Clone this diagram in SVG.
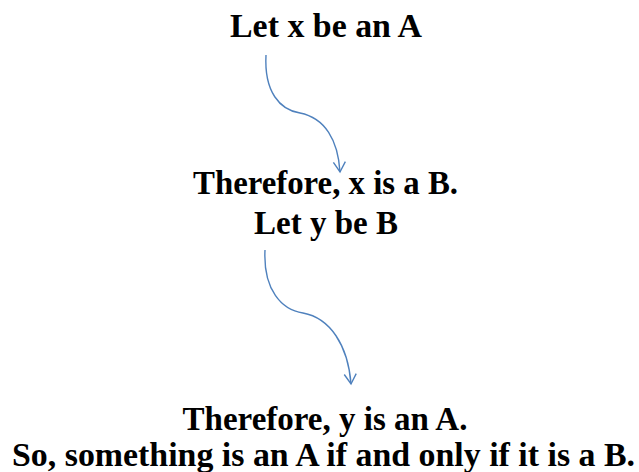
<svg xmlns="http://www.w3.org/2000/svg" width="639" height="472" viewBox="0 0 639 472">
<style>
text{font-family:"Liberation Serif","Times New Roman",serif;font-weight:bold;font-size:33px;fill:#000;text-anchor:middle}
.c{fill:none;stroke:#4F81BD;stroke-width:1.4}
</style>
<defs>
<marker id="ah" markerUnits="userSpaceOnUse" markerWidth="24" markerHeight="24" viewBox="-12 -12 24 24" refX="0" refY="0" orient="auto">
<path d="M-10,-6 L0,0 L-10,6" fill="none" stroke="#4F81BD" stroke-width="1.4"/>
</marker>
</defs>
<rect width="639" height="472" fill="#fff"/>
<g id="n1"><text x="326" y="37" textLength="192" lengthAdjust="spacingAndGlyphs">Let x be an A</text></g>
<g id="n2"><text x="325.5" y="194" textLength="265" lengthAdjust="spacingAndGlyphs">Therefore, x is a B.</text><text x="326" y="234">Let y be B</text></g>
<g id="n3"><text x="325" y="430">Therefore, y is an A.</text><text x="323.5" y="466" textLength="623" lengthAdjust="spacingAndGlyphs">So, something is an A if and only if it is a B.</text></g>
<g id="connectors">
<path class="c" marker-end="url(#ah)" d="M266,55 C264,92 280,110 300,113 C325,118 338,140 340,172"/>
<path class="c" marker-end="url(#ah)" d="M265,250 C263,290 282,310 303,313 C330,318 348,345 351,384"/>
</g>
</svg>
